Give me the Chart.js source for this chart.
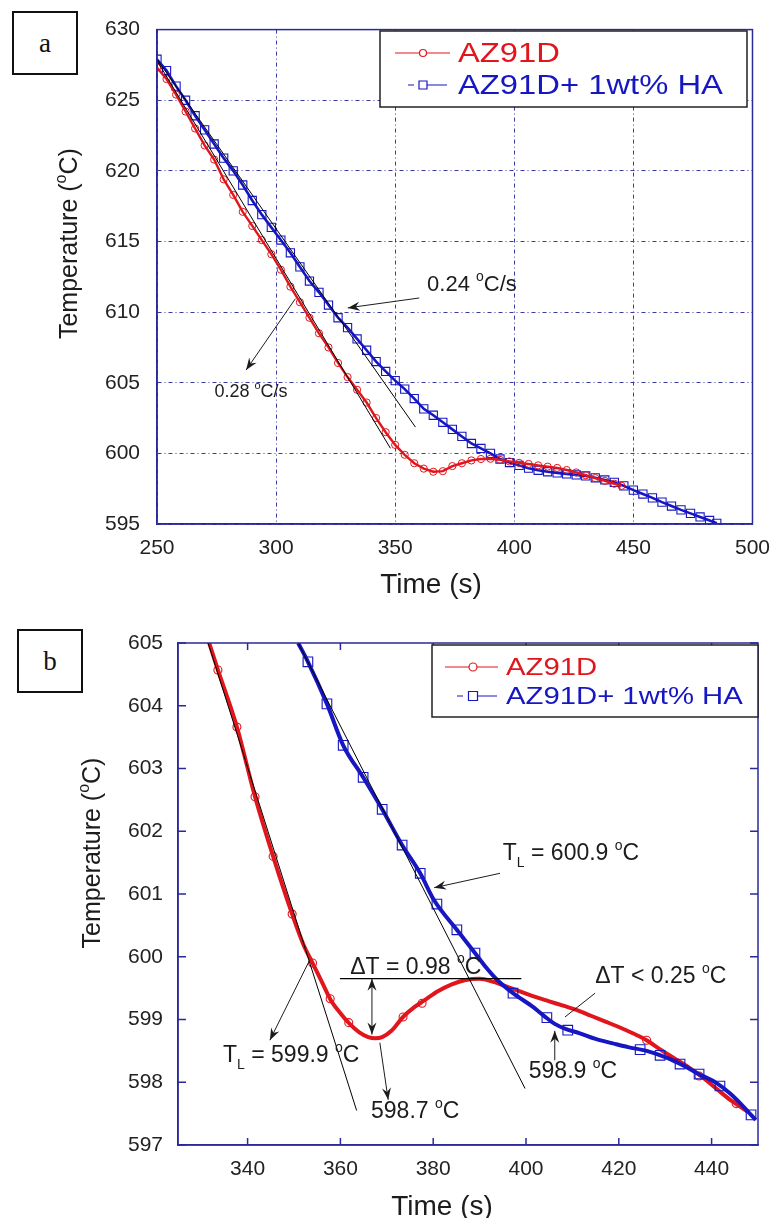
<!DOCTYPE html>
<html>
<head>
<meta charset="utf-8">
<title>AZ91D cooling curves</title>
<script src="https://cdn.jsdelivr.net/npm/chart.js@4.4.1/dist/chart.umd.min.js"></script>
<style>
  html, body { margin: 0; padding: 0; background: #fff; }
  #fig { position: relative; width: 782px; height: 1218px; overflow: hidden; }
  .panel { position: absolute; left: 0; }
  #wrapA { top: 0; }
  #wrapB { top: 600px; }
  .tag {
    position: absolute; box-sizing: border-box; border: 2px solid #111; background: #fff;
    font: 27px "Liberation Serif", "Times New Roman", serif; color: #111;
    display: flex; align-items: center; justify-content: center; z-index: 2;
  }
</style>
</head>
<body>
<div id="fig">
  <div class="panel" id="wrapA"><canvas id="chartA" width="782" height="600"></canvas></div>
  <div class="panel" id="wrapB"><canvas id="chartB" width="782" height="618"></canvas></div>
  <div class="tag" style="left:12px;top:11px;width:66px;height:64px;">a</div>
  <div class="tag" style="left:17px;top:629px;width:66px;height:64px;">b</div>
</div>
<script>
// ---- (a) full cooling curves, 250-485 s ----
const timeA_az = [250, 254, 258, 262, 266, 270, 274, 278, 282, 286, 290, 294, 298, 302, 306, 310, 314, 318, 322, 326,
  330, 334, 338, 342, 346, 350, 354, 358, 362, 366, 370, 374, 378, 382, 386, 390, 394, 398, 402, 406,
  410, 414, 418, 422, 426, 430, 434, 438, 442, 445];
const tempA_az = [627.3, 626.5, 625.4, 624.2, 623.0, 621.8, 620.8, 619.4, 618.3, 617.1, 616.1, 615.1, 614.1, 613.0, 611.8, 610.7, 609.6, 608.5, 607.5, 606.4,
  605.4, 604.5, 603.6, 602.5, 601.5, 600.6, 599.9, 599.3, 598.92, 598.7, 598.74, 599.1, 599.3, 599.5, 599.6, 599.62, 599.54, 599.43, 599.33, 599.25,
  599.15, 599.06, 598.97, 598.82, 598.65, 598.45, 598.25, 598.05, 597.85, 597.7];

const timeA_ha = [250, 254, 258, 262, 266, 270, 274, 278, 282, 286, 290, 294, 298, 302, 306, 310, 314, 318, 322, 326,
  330, 334, 338, 342, 346, 350, 354, 358, 362, 366, 370, 374, 378, 382, 386, 390, 394, 398, 402, 406,
  410, 414, 418, 422, 426, 430, 434, 438, 442, 446, 450, 454, 458, 462, 466, 470, 474, 478, 482, 485];
const tempA_ha = [627.9, 627.1, 626.0, 625.0, 623.9, 622.9, 621.9, 620.9, 620.0, 619.0, 617.9, 616.9, 616.0, 615.1, 614.2, 613.2, 612.2, 611.4, 610.5, 609.6,
  608.9, 608.1, 607.3, 606.5, 605.8, 605.15, 604.55, 603.88, 603.15, 602.7, 602.2, 601.7, 601.2, 600.7, 600.35, 600.0, 599.6, 599.35, 599.15, 598.95,
  598.8, 598.7, 598.62, 598.55, 598.48, 598.4, 598.27, 598.12, 597.95, 597.7, 597.4, 597.12, 596.85, 596.55, 596.27, 596.0, 595.75, 595.5, 595.25, 595.05];

// tangent lines for the two cooling rates (0.28 and 0.24 °C/s)
const tanA_fast_t = [250, 348];
const tanA_fast_T = [627.8, 600.36];
const tanA_slow_t = [250, 358.5];
const tanA_slow_T = [627.9, 601.86];

const xTicksA = [250, 300, 350, 400, 450, 500];
const yTicksA = [595, 600, 605, 610, 615, 620, 625, 630];

// ---- (b) liquidus region, 325-450 s ----
const timeB_az = [331.5, 333.6, 337.7, 341.6, 345.5, 349.6, 352.0, 354.0, 356.0, 358.0, 360.0, 362.0, 364.0, 366.0, 367.5, 369.0,
  371.0, 373.5, 376.0, 378.0, 381.0, 384.0, 387.0, 390.0, 393.0, 396.0, 399.0, 402.0, 405.0, 408.0, 411.0, 414.0,
  417.0, 420.0, 423.0, 426.0, 429.0, 432.0, 435.0, 438.0, 441.0, 444.0, 446.0, 448.0];
const tempB_az = [605.05, 604.57, 603.66, 602.55, 601.6, 600.68, 600.2, 599.9, 599.6, 599.3, 599.1, 598.93, 598.8, 598.72, 598.7, 598.72,
  598.82, 599.04, 599.2, 599.3, 599.45, 599.56, 599.63, 599.65, 599.6, 599.52, 599.44, 599.36, 599.29, 599.22, 599.15, 599.06,
  598.97, 598.88, 598.78, 598.67, 598.52, 598.38, 598.24, 598.08, 597.9, 597.72, 597.62, 597.52];
const markB_az_t = [333.6, 337.7, 341.6, 345.5, 349.6, 354.0, 357.8, 361.8, 373.5, 377.6, 426.0, 437.3, 445.3];
const markB_az_T = [604.57, 603.66, 602.55, 601.6, 600.68, 599.9, 599.33, 598.95, 599.04, 599.26, 598.67, 598.1, 597.66];

const timeB_ha = [350.9, 353.0, 357.1, 360.6, 364.9, 369.0, 373.3, 377.2, 380.2, 385.1, 389.0, 391.5, 393.8, 397.2, 401.5, 404.0,
  406.2, 408.5, 411.6, 415.0, 418.7, 422.0, 426.0, 430.0, 433.8, 437.0, 441.0, 444.0, 446.5, 448.5, 449.5];
const tempB_ha = [605.0, 604.7, 604.03, 603.37, 602.86, 602.35, 601.78, 601.33, 600.9, 600.43, 600.06, 599.82, 599.63, 599.42, 599.2, 599.05,
  598.93, 598.85, 598.78, 598.69, 598.62, 598.56, 598.5, 598.4, 598.27, 598.14, 597.99, 597.82, 597.64, 597.48, 597.4];
const markB_ha_t = [353.0, 357.1, 360.6, 364.9, 369.0, 373.3, 377.2, 380.8, 385.1, 389.0, 397.2, 404.5, 409.0, 424.6, 428.9, 433.2, 437.3, 441.8, 448.5];
const markB_ha_T = [604.7, 604.03, 603.37, 602.86, 602.35, 601.78, 601.33, 600.84, 600.43, 600.06, 599.42, 599.03, 598.83, 598.52, 598.43, 598.29, 598.13, 597.94, 597.48];

// liquidus tangents and the undercooling reference line
const tanB_az_t = [331.5, 363.5];
const tanB_az_T = [605.0, 597.55];
const tanB_ha_t = [350.9, 399.8];
const tanB_ha_T = [605.0, 597.9];
const refB_t = [359.9, 399.0];
const refB_T = [599.65, 599.65];

const xTicksB = [340, 360, 380, 400, 420, 440];
const yTicksB = [597, 598, 599, 600, 601, 602, 603, 604, 605];

// ---- styling ----
const SANS = '"Liberation Sans", Arial, Helvetica, sans-serif';
const RED = '#e0161c';
const BLUE = '#1616c2';
const AXIS = '#2a2a9c';
const GRID = '#3a3aa4';
const INK = '#1c1c1c';

const pts = (xs, ys) => xs.map((x, i) => ({ x, y: ys[i] }));
const tickFont = { family: SANS, size: 21 };

function runsWidth(ctx, runs, size) {
  let w = 0;
  for (const [s, k] of runs) {
    ctx.font = (k ? Math.round(size * 0.62) : size) + 'px ' + SANS;
    w += ctx.measureText(s).width;
  }
  return w;
}

// text with superscript (1) and subscript (-1) pieces
function richText(ctx, x, y, runs, size, align) {
  let cx = align === 'center' ? x - runsWidth(ctx, runs, size) / 2 : x;
  ctx.textBaseline = 'alphabetic';
  ctx.textAlign = 'left';
  for (const [s, k] of runs) {
    ctx.font = (k ? Math.round(size * 0.62) : size) + 'px ' + SANS;
    const dy = k === 1 ? -size * 0.45 : k === -1 ? size * 0.3 : 0;
    ctx.fillText(s, cx, y + dy);
    cx += ctx.measureText(s).width;
  }
}

function arrowHead(ctx, x1, y1, x2, y2) {
  const a = Math.atan2(y2 - y1, x2 - x1);
  ctx.save();
  ctx.translate(x2, y2);
  ctx.rotate(a);
  ctx.beginPath();
  ctx.moveTo(0, 0);
  ctx.lineTo(-12, -4.5);
  ctx.lineTo(-8, 0);
  ctx.lineTo(-12, 4.5);
  ctx.closePath();
  ctx.fill();
  ctx.restore();
}

function arrow(ctx, x1, y1, x2, y2, both) {
  ctx.beginPath();
  ctx.moveTo(x1, y1);
  ctx.lineTo(x2, y2);
  ctx.stroke();
  arrowHead(ctx, x1, y1, x2, y2);
  if (both) arrowHead(ctx, x2, y2, x1, y1);
}

function yTitle(ctx, cx, cy, size) {
  ctx.save();
  ctx.translate(cx, cy);
  ctx.rotate(-Math.PI / 2);
  ctx.fillStyle = INK;
  richText(ctx, 0, size * 0.36, [['Temperature (', 0], ['o', 1], ['C)', 0]], size, 'center');
  ctx.restore();
}

function xTitle(ctx, cx, base) {
  ctx.fillStyle = INK;
  ctx.font = '28px ' + SANS;
  ctx.textAlign = 'center';
  ctx.textBaseline = 'alphabetic';
  ctx.fillText('Time (s)', cx, base);
}

// boxed legend, text slightly widened like the plotting program's output
function legendBox(ctx, box, rows, size, widen) {
  ctx.save();
  ctx.fillStyle = '#fff';
  ctx.fillRect(box.x, box.y, box.w, box.h);
  ctx.strokeStyle = '#222';
  ctx.lineWidth = 1.5;
  ctx.strokeRect(box.x, box.y, box.w, box.h);
  for (const r of rows) {
    ctx.strokeStyle = r.color;
    ctx.lineWidth = 1.2;
    ctx.beginPath();
    for (const [a, b] of r.segs) { ctx.moveTo(a, r.y); ctx.lineTo(b, r.y); }
    ctx.stroke();
    ctx.fillStyle = '#fff';
    ctx.beginPath();
    if (r.mark === 'circle') ctx.arc(r.mx, r.y, r.ms, 0, Math.PI * 2);
    else ctx.rect(r.mx - r.ms, r.y - r.ms, 2 * r.ms, 2 * r.ms);
    ctx.fill();
    ctx.stroke();
    ctx.save();
    ctx.translate(r.tx, r.y);
    ctx.scale(widen, 1);
    ctx.fillStyle = r.color;
    ctx.font = size + 'px ' + SANS;
    ctx.textBaseline = 'middle';
    ctx.textAlign = 'left';
    ctx.fillText(r.label, 0, 1);
    ctx.restore();
  }
  ctx.restore();
}

const panelA = {
  id: 'panelA',
  afterDatasetsDraw(chart) {
    const { ctx, chartArea: a, scales: { x, y } } = chart;
    const P = (t, T) => [x.getPixelForValue(t), y.getPixelForValue(T)];
    ctx.save();
    ctx.strokeStyle = AXIS;
    ctx.lineWidth = 1.5;
    ctx.strokeRect(a.left, a.top, a.right - a.left, a.bottom - a.top);

    ctx.strokeStyle = INK;
    ctx.fillStyle = INK;
    ctx.lineWidth = 1;
    arrow(ctx, ...P(360.1, 611.0), ...P(330.1, 610.3));
    richText(ctx, ...P(363.4, 611.5), [['0.24 ', 0], ['o', 1], ['C/s', 0]], 22);
    arrow(ctx, ...P(308.1, 610.95), ...P(287.4, 605.9));
    richText(ctx, ...P(274.1, 604.0), [['0.28 ', 0], ['o', 1], ['C/s', 0]], 18);

    yTitle(ctx, a.left - 89, a.top + 214, 25);
    xTitle(ctx, a.left + 274, a.bottom + 69);

    legendBox(ctx, { x: 380, y: 31, w: 367, h: 76 }, [
      { label: 'AZ91D', color: RED, y: 53, segs: [[395, 450]], mark: 'circle', mx: 423, ms: 3.5, tx: 458 },
      { label: 'AZ91D+ 1wt% HA', color: BLUE, y: 85, segs: [[408, 414], [427, 447]], mark: 'rect', mx: 423, ms: 4, tx: 458 }
    ], 28, 1.17);
    ctx.restore();
  }
};

const panelB = {
  id: 'panelB',
  afterDatasetsDraw(chart) {
    const { ctx, chartArea: a, scales: { x, y } } = chart;
    const P = (t, T) => [x.getPixelForValue(t), y.getPixelForValue(T)];
    ctx.save();
    // frame with inward ticks on every side
    ctx.strokeStyle = AXIS;
    ctx.lineWidth = 1.5;
    ctx.strokeRect(a.left, a.top, a.right - a.left, a.bottom - a.top);
    ctx.beginPath();
    for (const v of xTicksB) {
      const px = x.getPixelForValue(v);
      ctx.moveTo(px, a.bottom); ctx.lineTo(px, a.bottom - 7);
      ctx.moveTo(px, a.top); ctx.lineTo(px, a.top + 7);
    }
    for (const v of yTicksB) {
      const py = y.getPixelForValue(v);
      ctx.moveTo(a.left, py); ctx.lineTo(a.left + 8, py);
      ctx.moveTo(a.right, py); ctx.lineTo(a.right - 8, py);
    }
    ctx.stroke();

    ctx.strokeStyle = INK;
    ctx.fillStyle = INK;
    ctx.lineWidth = 1;
    const fs = 23;
    // liquidus of the HA-containing alloy
    arrow(ctx, ...P(394.4, 601.33), ...P(380.2, 601.1));
    richText(ctx, ...P(395.0, 601.54), [['T', 0], ['L', -1], [' = 600.9 ', 0], ['o', 1], ['C', 0]], fs);
    // liquidus of AZ91D
    arrow(ctx, ...P(353.4, 599.95), ...P(344.8, 598.67));
    richText(ctx, ...P(334.7, 598.32), [['T', 0], ['L', -1], [' = 599.9 ', 0], ['o', 1], ['C', 0]], fs);
    // recalescence
    arrow(ctx, ...P(366.8, 599.65), ...P(366.8, 598.76), true);
    richText(ctx, ...P(362.1, 599.73), [['\u0394T = 0.98 ', 0], ['o', 1], ['C', 0]], fs);
    arrow(ctx, ...P(368.5, 598.63), ...P(370.3, 597.72));
    richText(ctx, ...P(366.6, 597.43), [['598.7 ', 0], ['o', 1], ['C', 0]], fs);
    arrow(ctx, ...P(406.2, 598.35), ...P(406.2, 598.82));
    richText(ctx, ...P(400.6, 598.07), [['598.9 ', 0], ['o', 1], ['C', 0]], fs);
    ctx.beginPath();
    ctx.moveTo(...P(414.9, 599.42));
    ctx.lineTo(...P(408.4, 599.04));
    ctx.stroke();
    richText(ctx, ...P(414.9, 599.58), [['\u0394T < 0.25 ', 0], ['o', 1], ['C', 0]], fs);

    yTitle(ctx, a.left - 87, a.top + 210, 25);
    xTitle(ctx, a.left + 264, a.bottom + 70);

    legendBox(ctx, { x: 432, y: 45, w: 326, h: 72 }, [
      { label: 'AZ91D', color: RED, y: 67, segs: [[445, 498]], mark: 'circle', mx: 473, ms: 4, tx: 506 },
      { label: 'AZ91D+ 1wt% HA', color: BLUE, y: 96, segs: [[457, 463], [478, 497]], mark: 'rect', mx: 473, ms: 4.5, tx: 506 }
    ], 24, 1.22);
    ctx.restore();
  }
};

function axis(min, max, ticks, pad, extra) {
  return Object.assign({
    type: 'linear', min, max,
    afterBuildTicks: s => { s.ticks = ticks.map(v => ({ value: v })); },
    ticks: { font: tickFont, color: '#222', autoSkip: false, maxRotation: 0, padding: pad }
  }, extra);
}

const common = {
  responsive: false,
  animation: false,
  events: [],
  plugins: { legend: { display: false }, tooltip: { enabled: false } }
};

new Chart(document.getElementById('chartA'), {
  type: 'scatter',
  data: {
    datasets: [
      { data: pts(tanA_fast_t, tanA_fast_T), showLine: true, borderColor: '#000', borderWidth: 1, pointRadius: 0, order: 0 },
      { data: pts(tanA_slow_t, tanA_slow_T), showLine: true, borderColor: '#000', borderWidth: 1, pointRadius: 0, order: 0 },
      {
        label: 'AZ91D', data: pts(timeA_az, tempA_az), showLine: true, borderColor: RED, borderWidth: 2.4,
        pointStyle: 'circle', pointRadius: 3.6, pointBorderWidth: 1, pointBorderColor: RED,
        pointBackgroundColor: 'rgba(0,0,0,0)', order: 1
      },
      {
        label: 'AZ91D+ 1wt% HA', data: pts(timeA_ha, tempA_ha), showLine: true, borderColor: BLUE, borderWidth: 2.6,
        pointStyle: 'rect', pointRadius: 5.8, pointBorderWidth: 1.1, pointBorderColor: BLUE,
        pointBackgroundColor: 'rgba(0,0,0,0)', order: 2
      }
    ]
  },
  options: Object.assign({}, common, {
    layout: { padding: { top: 28, right: 23, left: 0, bottom: 0 } },
    scales: {
      x: axis(250, 500, xTicksA, 12, {
        afterFit: s => { s.height = 76; },
        grid: { color: GRID, lineWidth: 1, drawTicks: false },
        border: { color: AXIS, width: 1.5, dash: [4, 3, 1, 3] }
      }),
      y: axis(595, 630, yTicksA, 17, {
        afterFit: s => { s.width = 157; },
        grid: { color: GRID, lineWidth: 1, drawTicks: false },
        border: { color: AXIS, width: 1.5, dash: [4, 3, 1, 3] }
      })
    }
  }),
  plugins: [panelA]
});

new Chart(document.getElementById('chartB'), {
  type: 'scatter',
  data: {
    datasets: [
      { data: pts(tanB_az_t, tanB_az_T), showLine: true, borderColor: '#000', borderWidth: 1, pointRadius: 0, order: 0 },
      { data: pts(tanB_ha_t, tanB_ha_T), showLine: true, borderColor: '#000', borderWidth: 1, pointRadius: 0, order: 0 },
      { data: pts(refB_t, refB_T), showLine: true, borderColor: '#000', borderWidth: 1.2, pointRadius: 0, order: 0 },
      {
        label: 'AZ91D', data: pts(timeB_az, tempB_az), showLine: true, borderColor: RED, borderWidth: 4,
        cubicInterpolationMode: 'monotone', pointRadius: 0, order: 3
      },
      {
        data: pts(markB_az_t, markB_az_T), pointStyle: 'circle', pointRadius: 4, pointBorderWidth: 1.1,
        pointBorderColor: RED, pointBackgroundColor: 'rgba(0,0,0,0)', order: 3
      },
      {
        label: 'AZ91D+ 1wt% HA', data: pts(timeB_ha, tempB_ha), showLine: true, borderColor: BLUE, borderWidth: 4,
        cubicInterpolationMode: 'monotone', pointRadius: 0, order: 2
      },
      {
        data: pts(markB_ha_t, markB_ha_T), pointStyle: 'rect', pointRadius: 6.8, pointBorderWidth: 1.1,
        pointBorderColor: BLUE, pointBackgroundColor: 'rgba(0,0,0,0)', order: 2
      }
    ]
  },
  options: Object.assign({}, common, {
    layout: { padding: { top: 43, right: 24, left: 0, bottom: 0 } },
    scales: {
      x: axis(325, 450, xTicksB, 12, {
        afterFit: s => { s.height = 73; },
        grid: { display: false, drawTicks: false },
        border: { color: AXIS, width: 1.5 }
      }),
      y: axis(597, 605, yTicksB, 15, {
        afterFit: s => { s.width = 178; },
        grid: { display: false, drawTicks: false },
        border: { color: AXIS, width: 1.5 }
      })
    }
  }),
  plugins: [panelB]
});
</script>
</body>
</html>
